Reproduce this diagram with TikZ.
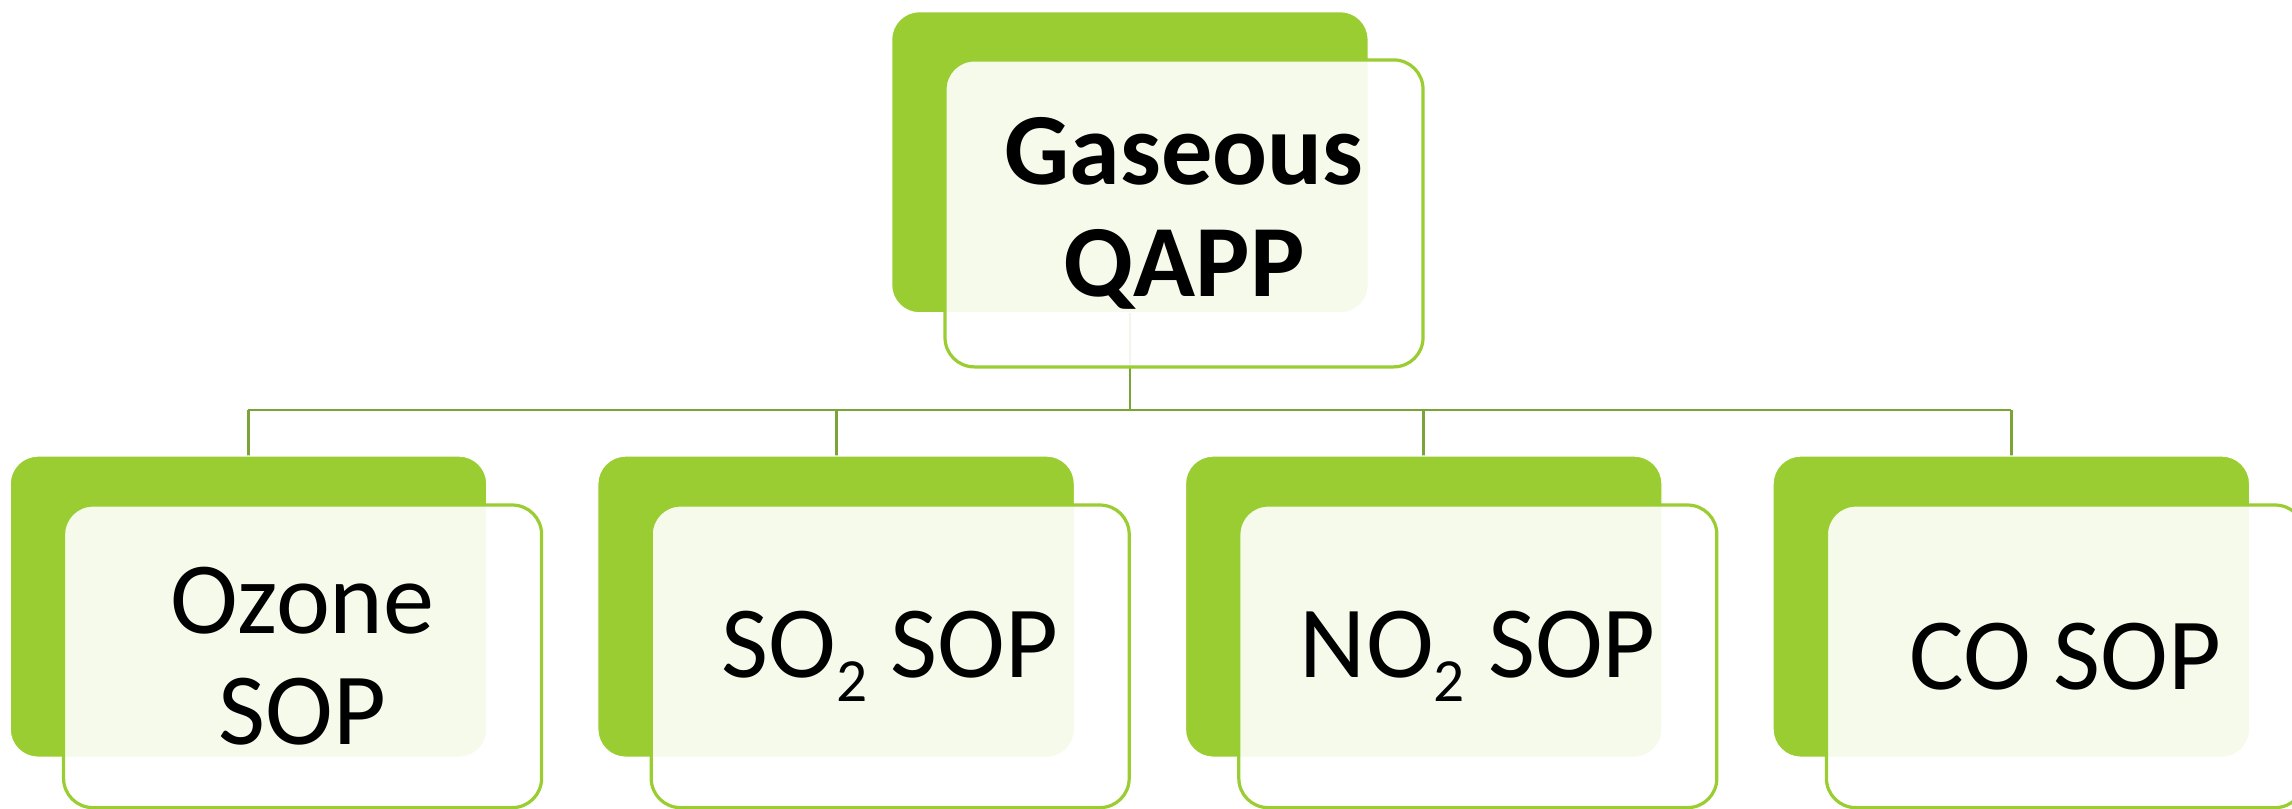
\documentclass[tikz,border=0pt]{standalone}
\usepackage{fontspec}
\setmainfont{Carlito}
\definecolor{leaf}{RGB}{154,205,50}
\definecolor{stem}{RGB}{122,163,56}
\newcommand{\subtwo}{\raisebox{-16pt}{\fontsize{42}{42}\selectfont 2}}
\tikzset{
  backbox/.style={rectangle, rounded corners=19pt, fill=leaf, draw=white, line width=0.8pt,
    minimum width=326pt, minimum height=206pt, inner sep=0pt},
  frontbox/.style={rectangle, rounded corners=20pt, fill=white, fill opacity=0.9, text opacity=1,
    draw=leaf, line width=2.2pt, minimum width=327pt, minimum height=207pt, inner sep=0pt,
    align=center, font=\fontsize{70}{76}\selectfont},
  conn/.style={draw=stem, line width=1.9pt}
}
\begin{document}
\begin{tikzpicture}[x=1pt,y=-1pt]
\useasboundingbox (0,0) rectangle (1568,553);
% back boxes
\node[backbox] (topback) at (773,111) {};
\node[backbox] (b1) at (170,415) {};
\node[backbox] (b2) at (572,415) {};
\node[backbox] (b3) at (974,415) {};
\node[backbox] (b4) at (1376,415) {};
% connectors
\coordinate (busL) at (170,280.5);
\coordinate (busR) at (1376,280.5);
\draw[conn] (topback.south) -- (topback.south |- busL);
\draw[conn] (busL) -- (busR);
\draw[conn] (busL) -- ([yshift=-2pt]b1.north);
\draw[conn] (b2.north |- busL) -- ([yshift=-2pt]b2.north);
\draw[conn] (b3.north |- busL) -- ([yshift=-2pt]b3.north);
\draw[conn] (busR) -- ([yshift=-2pt]b4.north);
% redraw back boxes over connector ends
\node[backbox] at (b1) {};
\node[backbox] at (b2) {};
\node[backbox] at (b3) {};
\node[backbox] at (b4) {};
% front boxes
\node[frontbox, font=\fontsize{70}{76}\selectfont\bfseries, minimum height=210pt] (top) at (810,146) {Gaseous\\QAPP};
\node[frontbox] (f1) at (207,449) {Ozone\\SOP};
\node[frontbox] (f2) at (609,449) {SO\subtwo{} SOP};
\node[frontbox] (f3) at (1011,449) {NO\subtwo{} SOP};
\node[frontbox] (f4) at (1413,449) {CO SOP};
\end{tikzpicture}
\end{document}
